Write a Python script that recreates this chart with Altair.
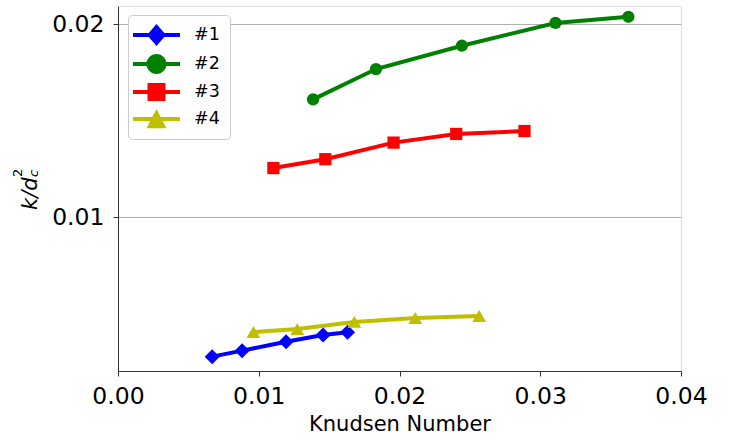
import altair as alt
import pandas as pd

# Permeability ratio k/d_c^2 against Knudsen number for four samples
series_names = ["#1", "#2", "#3", "#4"]
series_colors = ["#0000ff", "#008000", "#ff0000", "#bfbf00"]

kn_1 = [0.00669, 0.00882, 0.01194, 0.01457, 0.01631]
k_1 = [0.00278, 0.00309, 0.00355, 0.00390, 0.00404]
kn_2 = [0.01386, 0.01833, 0.02443, 0.03108, 0.03626]
k_2 = [0.01611, 0.01768, 0.01889, 0.02007, 0.02039]
kn_3 = [0.01104, 0.01473, 0.01958, 0.02403, 0.02888]
k_3 = [0.01255, 0.01301, 0.01387, 0.01432, 0.01447]
kn_4 = [0.00962, 0.01274, 0.01679, 0.02112, 0.02566]
k_4 = [0.00406, 0.00421, 0.00458, 0.00478, 0.00489]

x_ticks = [0.0, 0.01, 0.02, 0.03, 0.04]
y_ticks = [0.01, 0.02]
x_range = [0.0, 0.04]
y_range = [0.002036, 0.020948]

rows = []
for name, xs, ys in zip(series_names, [kn_1, kn_2, kn_3, kn_4], [k_1, k_2, k_3, k_4]):
    for xv, yv in zip(xs, ys):
        rows.append({"series": name, "kn": xv, "k": yv})
df = pd.DataFrame(rows)

FONT = "DejaVu Sans"
W, H = 563, 365

x_enc = alt.X(
    "kn:Q",
    scale=alt.Scale(domain=x_range, nice=False, zero=False),
    axis=alt.Axis(
        values=x_ticks, format=".2f", title="Knudsen Number",
        labelFontSize=23.5, titleFontSize=21, titleFontWeight="normal",
        labelFont=FONT, titleFont=FONT, labelColor="#000", titleColor="#000",
        tickSize=5, tickColor="#333", domainColor="#333", labelPadding=8,
        titlePadding=6, grid=False, labelFlush=False,
    ),
)
y_enc = alt.Y(
    "k:Q",
    scale=alt.Scale(domain=y_range, nice=False, zero=False),
    axis=alt.Axis(
        values=y_ticks, format=".2f", title=None,
        labelFontSize=23.5, labelFont=FONT, labelColor="#000",
        tickSize=5, tickColor="#333", domainColor="#333", labelPadding=9,
        grid=True, gridColor="#b0b0b0", gridWidth=1,
    ),
)
color_scale = alt.Scale(domain=series_names, range=series_colors)

base = alt.Chart(df)

lines = base.mark_line(strokeWidth=4).encode(
    x=x_enc, y=y_enc,
    color=alt.Color("series:N", scale=color_scale, legend=None),
    detail="series:N",
)

marker_shapes = {"#1": ("diamond", 225), "#2": ("circle", 150), "#3": ("square", 150), "#4": ("triangle-up", 190)}
point_layers = []
for name in series_names:
    shp, sz = marker_shapes[name]
    point_layers.append(
        base.transform_filter(alt.datum.series == name)
        .mark_point(shape=shp, size=sz, filled=True, opacity=1, strokeWidth=0)
        .encode(x=x_enc, y=y_enc,
                color=alt.Color("series:N", scale=color_scale, legend=None))
    )

# legend glyphs: a short line segment with the marker on top (unit = 10 px)
seg = "M-1.5,-0.2H3.2V0.2H-1.5Z "
legend_glyphs = [
    seg + "M0.85,-1.1L1.8,0L0.85,1.1L-0.1,0Z",
    seg + "M-0.15,0A1,1 0 1,1 1.85,0A1,1 0 1,1 -0.15,0Z",
    seg + "M-0.05,-0.9H1.75V0.9H-0.05Z",
    seg + "M0.85,-1L1.85,0.93H-0.15Z",
]
legend_def = alt.Legend(
    title=None, orient="none", legendX=10, legendY=9,
    symbolSize=400, symbolStrokeWidth=0, symbolOpacity=1,
    labelFontSize=17.5, labelFont=FONT, labelColor="#000",
    labelOffset=36, rowPadding=8, padding=10,
    fillColor="white", strokeColor="#cccccc", cornerRadius=4,
)
legend_layer = base.mark_point(filled=True, opacity=0).encode(
    x=x_enc, y=y_enc,
    fill=alt.Fill("series:N", scale=alt.Scale(domain=series_names, range=series_colors), legend=legend_def),
    shape=alt.Shape("series:N", scale=alt.Scale(domain=series_names, range=legend_glyphs), legend=legend_def),
)

# y-axis label k/d_c^2 built from pieces
def title_piece(text, px, py, size, italic):
    return alt.Chart(pd.DataFrame({"part": [text]})).mark_text(
        angle=270, align="left", baseline="alphabetic", font=FONT,
        fontSize=size, fontStyle="italic" if italic else "normal", color="#000",
    ).encode(text="part:N", x=alt.value(px), y=alt.value(py))

ytitle = (
    title_piece("k/d", -81, 204, 21, True)
    + title_piece("2", -96, 171, 13, False)
    + title_piece("c", -80, 171, 13, True)
)

chart = alt.layer(legend_layer, lines, *point_layers, ytitle).properties(
    width=W, height=H,
    autosize=alt.AutoSizeParams(type="none"),
    padding={"left": 118, "top": 6, "right": 48, "bottom": 70},
).configure_view(stroke="#333", strokeWidth=1.2).configure(background="white")

chart.save("out.html", embed_options={"renderer": "svg", "actions": False})
